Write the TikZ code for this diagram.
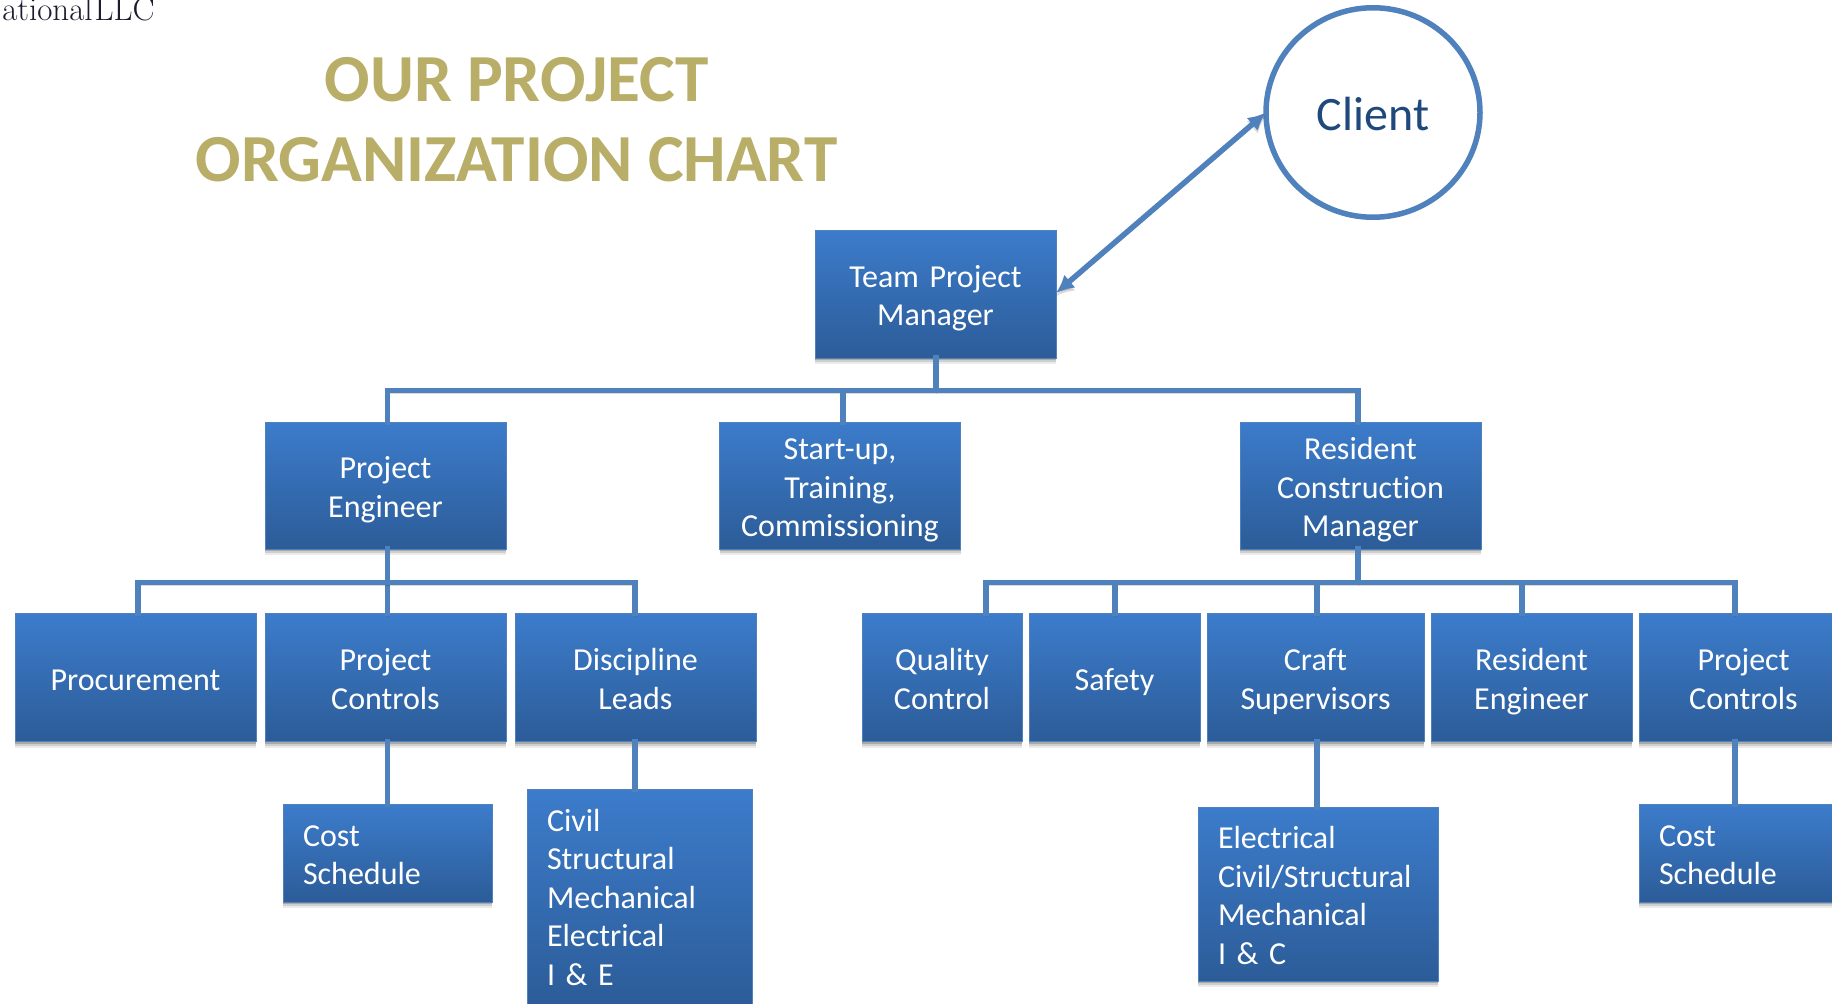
\documentclass[tikz,border=0pt]{standalone}
\usepackage{fontspec}
\setmainfont{Carlito}[Ligatures=NoCommon]
\newfontfamily\serifface{Latin Modern Roman}
\usetikzlibrary{shapes.geometric,shadows,arrows.meta}
\definecolor{linkblue}{HTML}{4F81BD}
\definecolor{boxtop}{HTML}{3C7CCB}
\definecolor{boxbot}{HTML}{2C5C98}
\definecolor{boxedge}{HTML}{4F81BD}
\definecolor{titlegold}{HTML}{B8AE68}
\definecolor{clientblue}{HTML}{1F497D}
\definecolor{corpink}{HTML}{1C1C30}
\tikzset{
  x=1pt,y=-1pt,
  basebox/.style={draw=boxedge,line width=1pt,top color=boxtop,bottom color=boxbot,
    text=white,inner sep=0pt,outer sep=0pt,
    font=\fontsize{32}{38.5}\selectfont,
    execute at begin node={\rule{0pt}{34pt}},
    execute at end node={\rule[-9pt]{0pt}{9pt}},
    drop shadow={shadow xshift=0pt,shadow yshift=-6pt,fill=black,opacity=.08},
    drop shadow={shadow xshift=0pt,shadow yshift=-4pt,fill=black,opacity=.12},
    drop shadow={shadow xshift=0pt,shadow yshift=-2pt,fill=black,opacity=.18}},
  orgbox/.style={basebox,align=center,minimum width=#1,text width=#1},
  listbox/.style={basebox,align=left,inner xsep=20pt,text width=#1},
  conn/.style={draw=linkblue,line width=5.5pt,line cap=rect,
    preaction={draw=black,opacity=.14,transform canvas={yshift=-3pt}}},
  titletext/.style={text=titlegold,align=center,inner sep=0pt,
    font=\fontsize{67.3}{80}\selectfont\bfseries},
}
\begin{document}
\begin{tikzpicture}
\path[fill=white,use as bounding box] (0,0) rectangle (1832,1004);
\clip (0,0) rectangle (1832,1004);
\node[anchor=base east,inner sep=0pt,text=corpink,font=\serifface\fontsize{33}{33}\selectfont] (corp) at (155,20) {ational\kern2pt LLC};
\node[titletext] (title) at (516.5,120) {OUR PROJECT\\ORGANIZATION CHART};
\node[ellipse,draw=linkblue,line width=5.5pt,fill=white,inner sep=0pt,outer sep=0pt,minimum width=214pt,minimum height=209.5pt,text=clientblue,font=\fontsize{48}{50}\selectfont] (client) at (1373,112.5) {\rule{0pt}{36pt}Client};
% level 1
\node[orgbox=241pt,minimum height=128pt] (tpm) at (935.5,294) {Team Project\\Manager};
% level 2
\node[orgbox=241pt,minimum height=127pt] (pe) at (385.5,485.5) {Project\\Engineer};
\node[orgbox=241pt,minimum height=127pt] (su) at (840,485.5) {Start-up,\\Training,\\Commissioning};
\node[orgbox=241pt,minimum height=127pt] (rcm) at (1360.5,485.5) {Resident\\Construction\\Manager};
% level 3
\node[orgbox=241pt,minimum height=128pt] (proc) at (135.5,677.5) {Procurement};
\node[orgbox=241pt,minimum height=128pt] (pc) at (385.5,677.5) {Project\\Controls};
\node[orgbox=241pt,minimum height=128pt] (dl) at (635.5,677.5) {Discipline\\Leads};
\node[orgbox=160pt,minimum height=128pt] (qc) at (942,677.5) {Quality\\Control};
\node[orgbox=171pt,minimum height=128pt] (saf) at (1114.5,677.5) {Safety};
\node[orgbox=217pt,minimum height=128pt] (craft) at (1315.5,677.5) {Craft\\Supervisors};
\node[orgbox=201pt,minimum height=128pt] (re) at (1531.5,677.5) {Resident\\Engineer};
\node[orgbox=209pt,minimum height=128pt] (pcb) at (1743.5,677.5) {Project\\Controls};
% level 4
\node[listbox=169pt,minimum height=98pt] (cost) at (387.5,853) {Cost\\Schedule};
\node[listbox=185pt,minimum height=217pt,execute at end node={\rule[-13pt]{0pt}{13pt}}] (civil) at (639.5,897.5) {Civil\\Structural\\Mechanical\\Electrical\\I \& E};
\node[listbox=200pt,minimum height=174pt] (elec) at (1318,894) {Electrical\\Civil/Structural\\Mechanical\\I \& C};
\node[listbox=169pt,minimum height=98pt] (costb) at (1743.5,853) {Cost\\Schedule};
% buses
\coordinate (top) at (936,390.5);
\coordinate (topL) at (387.5,390.5);
\coordinate (topM) at (843,390.5);
\coordinate (topR) at (1358,390.5);
\coordinate (leftS) at (387.5,582.5);
\coordinate (leftA) at (138,582.5);
\coordinate (leftC) at (635,582.5);
\coordinate (rightS) at (1358,582.5);
\coordinate (rightA) at (986,582.5);
\coordinate (rightB) at (1115,582.5);
\coordinate (rightC) at (1317,582.5);
\coordinate (rightD) at (1522,582.5);
\coordinate (rightE) at (1735,582.5);
\draw[conn] (top |- tpm.south) -- (top);
\draw[conn] (topL |- pe.north) -- (topL) -- (topR) -- (topR |- rcm.north);
\draw[conn] (topM) -- (topM |- su.north);
\draw[conn] (leftS |- pe.south) -- (leftS |- pc.north);
\draw[conn] (leftA |- proc.north) -- (leftA) -- (leftC) -- (leftC |- dl.north);
\draw[conn] (rightS |- rcm.south) -- (rightS);
\draw[conn] (rightA |- qc.north) -- (rightA) -- (rightE) -- (rightE |- pcb.north);
\draw[conn] (rightB) -- (rightB |- saf.north);
\draw[conn] (rightC) -- (rightC |- craft.north);
\draw[conn] (rightD) -- (rightD |- re.north);
\draw[conn] (leftS |- pc.south) -- (leftS |- cost.north);
\draw[conn] (leftC |- dl.south) -- (leftC |- civil.north);
\draw[conn] (rightC |- craft.south) -- (rightC |- elec.north);
\draw[conn] (rightE |- pcb.south) -- (rightE |- costb.north);
\coordinate (tpmE) at (tpm.east |- 0,293);
\coordinate (clW) at (client.west);
\draw[conn,line cap=butt,{Latex[length=18pt,width=17pt]}-{Latex[length=18pt,width=17pt]}] (tpmE) -- (clW);
\end{tikzpicture}
\end{document}
